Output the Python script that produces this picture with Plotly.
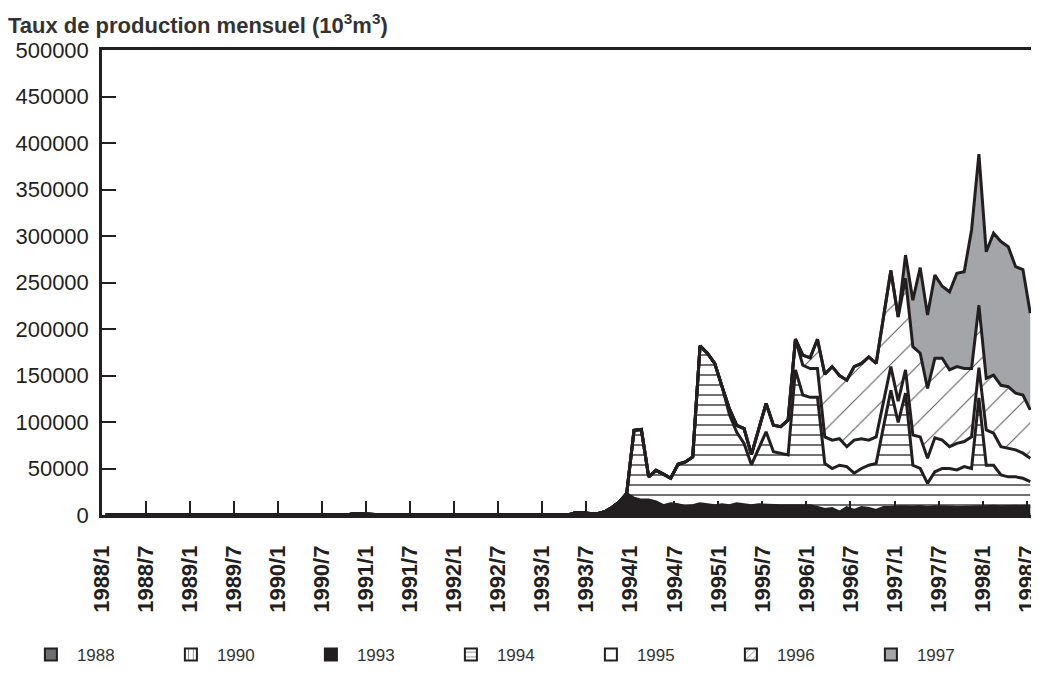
import plotly.graph_objects as go

# ---------------- data ----------------
tick_labels = ["1988/1", "1988/7", "1989/1", "1989/7", "1990/1", "1990/7",
               "1991/1", "1991/7", "1992/1", "1992/7", "1993/1", "1993/7",
               "1994/1", "1994/7", "1995/1", "1995/7", "1996/1", "1996/7",
               "1997/1", "1997/7", "1998/1", "1998/7"]
month_count = 127  # 1988/1 .. 1998/7

# monthly production (10^3 m^3) per completion-year group; each list starts at its start month index
start_1988 = 0
prod_1988 = []
start_1990 = 33   # 1990/10
prod_1990 = [300, 1500, 1000, 300]
start_1993 = 64   # 1993/5
prod_1993 = [2500, 2500, 1500, 1500, 3500, 8000, 14000, 23000,
             18000, 16000, 16000, 14000, 10000, 12000, 11000, 9000, 10000, 12000, 11000, 10000,
             11000, 10000, 12000, 11000, 10000, 11000, 10500, 10000, 10000, 10000, 10000, 10500,
             10000, 8000, 6000, 7000, 3000, 8000, 5000, 8000, 7000, 5000, 8000, 8000,
             9000, 9000, 8500, 9000, 8000, 9000, 9000, 8500, 8000, 8500, 9000, 9000,
             9000, 9500, 9000, 9000, 9500, 9000, 9500]
start_1994 = 72   # 1994/1
prod_1994 = [73000, 76000, 25000, 34000, 34000, 27500, 43500, 48000, 52500, 170000, 163000, 153000,
             127000, 98000, 77000, 66000, 44000, 61000, 79000, 58000, 56300, 54500, 146000, 118500,
             116500, 118500, 49500, 43000, 50500, 44000, 40000, 42000, 46500, 50500, 87000, 126000,
             90500, 122000, 45000, 41000, 26000, 37500, 41000, 41500, 40500, 43500, 41000, 117000,
             44500, 44000, 34000, 32000, 31500, 30500, 26500]
start_1995 = 84   # 1995/1
prod_1995 = [0, 6000, 7500, 16000, 11000, 20000, 30400, 28500, 28700, 37500, 33000, 32000,
             31000, 31000, 28500, 30500, 28500, 21500, 35500, 32000, 27000, 28500, 27000, 25500,
             23000, 25000, 32500, 34000, 27000, 36500, 30500, 23500, 28500, 27000, 34000, 32500,
             38000, 34500, 30500, 30500, 29000, 27000, 25000]
start_1996 = 94   # 1995/11
prod_1996 = [0, 11000,
             11500, 31500, 67500, 79000, 68000, 71500, 79000, 81000, 89500, 79000, 90000, 103500,
             90500, 98500, 95000, 90000, 75000, 85500, 88000, 82500, 82500, 78500, 73500, 67000,
             55500, 62500, 66000, 66500, 61000, 62500, 52000]
start_1997 = 108  # 1997/1
prod_1997 = [0, 25000, 50000, 92000, 79000, 89500, 77500, 84000, 100500, 104000, 149000, 162500,
             136000, 152500, 154500, 150500, 136000, 135000, 104000]

series_names = ["1988", "1990", "1993", "1994", "1995", "1996", "1997"]


def full_series(start, values):
    out = [0] * month_count
    for k, v in enumerate(values):
        out[start + k] = v
    return out


series_data = [full_series(start_1988, prod_1988), full_series(start_1990, prod_1990),
               full_series(start_1993, prod_1993), full_series(start_1994, prod_1994),
               full_series(start_1995, prod_1995), full_series(start_1996, prod_1996),
               full_series(start_1997, prod_1997)]

# ---------------- style ----------------
INK = "#231f20"
styles = {
    "1988": dict(color="#6d6e71", shape=""),
    "1990": dict(color="white", shape="|"),
    "1993": dict(color=INK, shape=""),
    "1994": dict(color="white", shape="-"),
    "1995": dict(color="white", shape=""),
    "1996": dict(color="white", shape="/"),
    "1997": dict(color="#a4a5a8", shape=""),
}

x_pos = [m + 0.5 for m in range(month_count)]  # mid-month positions

fig = go.Figure()
for name, ys in zip(series_names, series_data):
    st = styles[name]
    kw = {}
    if st["shape"]:
        if st["shape"] == "/":
            kw["fillpattern"] = dict(shape="/", fgcolor="#555555", bgcolor="white",
                                     size=20, solidity=0.05, fillmode="replace")
        else:
            kw["fillpattern"] = dict(shape=st["shape"], fgcolor="#333333", bgcolor="white",
                                     size=10, solidity=0.14, fillmode="replace")
    fig.add_trace(go.Scatter(
        x=x_pos, y=ys, name=name, mode="lines", stackgroup="prod",
        line=dict(color=INK, width=3), fillcolor=st["color"],
        showlegend=False, hoverinfo="skip", **kw))

# legend entries (box icons)
for name in series_names:
    st = styles[name]
    marker = dict(color=st["color"], line=dict(color=INK, width=2))
    if st["shape"]:
        marker["pattern"] = dict(shape=st["shape"], fgcolor=INK, bgcolor="white",
                                 size=6, solidity=0.2)
    fig.add_trace(go.Bar(x=[None], y=[None], name=name, marker=marker, showlegend=True))

# the page places the figure 8 px from the top-left corner, so the figure is 8 px smaller
fig.update_layout(
    width=1031, height=682,
    paper_bgcolor="white", plot_bgcolor="white",
    margin=dict(l=94, r=8, t=42, b=175, autoexpand=False),
    font=dict(family="Liberation Sans, Arial, sans-serif", color=INK),
    title=dict(text="Taux de production mensuel (10<sup>3</sup>m<sup>3</sup>)",
               x=0.0, xanchor="left", y=0.975, yanchor="middle", xref="container",
               font=dict(size=22, color="#333333", weight="bold")),
    showlegend=True,
    legend=dict(orientation="h", x=-0.083, xanchor="left", y=-0.301, yanchor="middle",
                itemwidth=42, entrywidth=83, entrywidthmode="pixels", traceorder="normal",
                font=dict(size=17, color="#333333")),
)
fig.update_xaxes(
    range=[0, 126.6], tickmode="array", tickvals=[6 * k for k in range(len(tick_labels))],
    ticktext=tick_labels, tickangle=-90, ticks="inside", ticklen=14, tickwidth=1.5,
    tickcolor=INK, showline=True, linecolor=INK, linewidth=2.5, mirror=True,
    showgrid=False, zeroline=False, ticklabelstandoff=19, automargin=False,
    tickfont=dict(size=22, color=INK, weight="bold"))
fig.update_yaxes(
    range=[0, 500000], dtick=50000, tickformat="d", ticks="inside", ticklen=14,
    tickwidth=1.5, tickcolor=INK, showline=True, linecolor=INK, linewidth=2.5, mirror=True,
    showgrid=False, zeroline=False, ticklabelstandoff=6, automargin=False,
    tickfont=dict(size=22, color=INK))

fig.write_html("out.html")
